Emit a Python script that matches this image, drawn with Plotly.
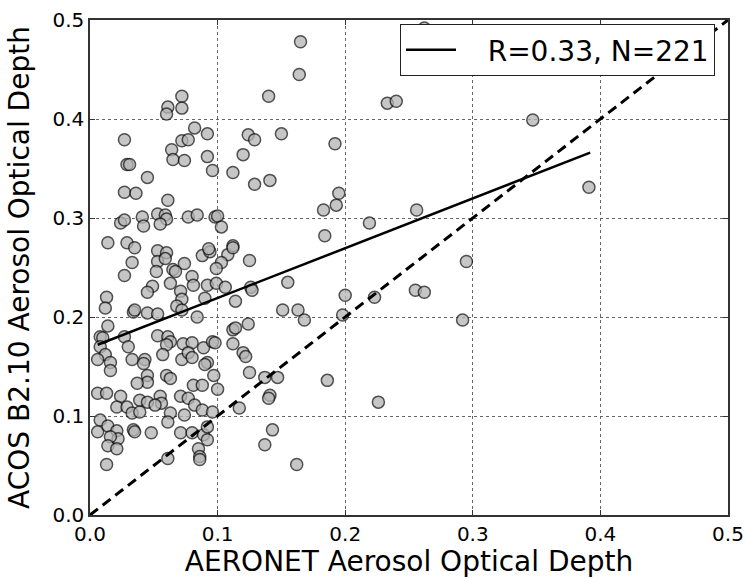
import plotly.graph_objects as go

# AERONET AOD (x) and ACOS B2.10 AOD (y)
aeronet_aod = [
    0.072, 0.061, 0.072, 0.060, 0.027, 0.082, 0.092, 0.072, 0.077, 0.064,
    0.092, 0.065, 0.074, 0.029, 0.031, 0.045, 0.027, 0.036, 0.061, 0.096,
    0.024, 0.027, 0.041, 0.042, 0.053, 0.059, 0.060, 0.055, 0.077, 0.084,
    0.098,
    0.014, 0.029, 0.035, 0.053, 0.060, 0.033, 0.053, 0.059, 0.074, 0.088,
    0.094, 0.052, 0.065, 0.067, 0.027, 0.080, 0.081, 0.063, 0.092, 0.049,
    0.045, 0.071, 0.072, 0.068, 0.072, 0.090, 0.013, 0.012, 0.034, 0.035,
    0.045, 0.053, 0.084, 0.014, 0.008, 0.010, 0.027, 0.053, 0.061, 0.063,
    0.060, 0.030, 0.008, 0.073, 0.080, 0.089, 0.096, 0.012, 0.006, 0.016,
    0.033, 0.043, 0.057, 0.072, 0.077, 0.080, 0.092, 0.042,
    0.016, 0.045, 0.045, 0.060, 0.063, 0.037, 0.081, 0.088, 0.006, 0.013,
    0.024, 0.039, 0.045, 0.055, 0.056, 0.071, 0.077, 0.082, 0.088, 0.021,
    0.029, 0.033, 0.039, 0.051, 0.063, 0.074, 0.096, 0.008, 0.061, 0.006,
    0.014, 0.021, 0.022, 0.016, 0.014, 0.021, 0.034, 0.048, 0.071, 0.080,
    0.089, 0.092, 0.085, 0.086, 0.086, 0.013, 0.061, 0.035,
    0.140, 0.164, 0.165, 0.124, 0.129, 0.150, 0.120, 0.112, 0.129, 0.141,
    0.183, 0.100, 0.103,
    0.184, 0.093, 0.108, 0.112, 0.112, 0.103, 0.099, 0.125, 0.099, 0.106,
    0.126, 0.127, 0.114, 0.155, 0.151, 0.163, 0.168, 0.124, 0.112, 0.114,
    0.098, 0.112, 0.120, 0.122, 0.125,
    0.090, 0.097, 0.137, 0.147, 0.186, 0.100, 0.141, 0.140, 0.117, 0.092,
    0.143, 0.137, 0.162,
    0.262, 0.233, 0.240, 0.347, 0.192, 0.391, 0.195, 0.193, 0.256, 0.219,
    0.295, 0.200, 0.223, 0.255, 0.262, 0.198, 0.292, 0.226,
]
acos_aod = [
    0.423, 0.412, 0.411, 0.405, 0.379, 0.391, 0.385, 0.378, 0.379, 0.369,
    0.362, 0.359, 0.358, 0.354, 0.354, 0.341, 0.326, 0.325, 0.318, 0.348,
    0.295, 0.298, 0.301, 0.292, 0.304, 0.303, 0.299, 0.294, 0.301, 0.303,
    0.301,
    0.275, 0.275, 0.270, 0.267, 0.265, 0.255, 0.256, 0.259, 0.254, 0.262,
    0.266, 0.246, 0.248, 0.246, 0.242, 0.241, 0.232, 0.234, 0.232, 0.231,
    0.225, 0.226, 0.218, 0.211, 0.207, 0.219, 0.220, 0.209, 0.205, 0.207,
    0.204, 0.203, 0.200, 0.191, 0.180, 0.179, 0.180, 0.181, 0.180, 0.175,
    0.172, 0.170, 0.170, 0.173, 0.174, 0.169, 0.175, 0.162, 0.157, 0.154,
    0.157, 0.157, 0.162, 0.157, 0.164, 0.159, 0.154, 0.153,
    0.146, 0.141, 0.134, 0.141, 0.138, 0.133, 0.131, 0.131, 0.123, 0.123,
    0.120, 0.116, 0.114, 0.120, 0.113, 0.120, 0.118, 0.111, 0.106, 0.109,
    0.109, 0.103, 0.104, 0.111, 0.103, 0.101, 0.104, 0.096, 0.094, 0.084,
    0.090, 0.085, 0.077, 0.079, 0.070, 0.067, 0.086, 0.083, 0.083, 0.083,
    0.081, 0.076, 0.067, 0.059, 0.056, 0.051, 0.057, 0.084,
    0.423, 0.445, 0.478, 0.384, 0.379, 0.385, 0.364, 0.346, 0.334, 0.338,
    0.308, 0.302, 0.291,
    0.282, 0.269, 0.263, 0.272, 0.270, 0.255, 0.249, 0.257, 0.234, 0.230,
    0.230, 0.227, 0.216, 0.235, 0.207, 0.207, 0.197, 0.193, 0.187, 0.189,
    0.174, 0.173, 0.164, 0.160, 0.144,
    0.152, 0.141, 0.139, 0.139, 0.136, 0.127, 0.121, 0.118, 0.108, 0.089,
    0.086, 0.071, 0.051,
    0.492, 0.416, 0.418, 0.399, 0.375, 0.331, 0.325, 0.313, 0.308, 0.295,
    0.256, 0.222, 0.220, 0.227, 0.225, 0.202, 0.197, 0.114,
]

# regression line end points and 1:1 line
fit_x = [0.006, 0.392]
fit_y = [0.172, 0.366]
one_to_one = [0.0, 0.5]

tick_vals = [0.0, 0.1, 0.2, 0.3, 0.4, 0.5]
tick_text = ["0.0", "0.1", "0.2", "0.3", "0.4", "0.5"]
legend_label = "R=0.33, N=221"
x_title = "AERONET Aerosol Optical Depth"
y_title = "ACOS B2.10 Aerosol Optical Depth"

FONT = "DejaVu Sans"

fig = go.Figure()
fig.add_trace(go.Scatter(
    x=aeronet_aod, y=acos_aod, mode="markers", showlegend=False,
    marker=dict(size=12, color="#b4b4b4", opacity=0.75,
                line=dict(color="#151515", width=1.5)),
))
fig.add_trace(go.Scatter(
    x=fit_x, y=fit_y, mode="lines", name="\u00a0\u00a0\u00a0" + legend_label,
    line=dict(color="black", width=2.5),
))
fig.add_trace(go.Scatter(
    x=one_to_one, y=one_to_one, mode="lines", showlegend=False,
    line=dict(color="black", width=3, dash="10px,6px"),
))

axis_common = dict(
    range=[0, 0.5], tickvals=tick_vals, ticktext=tick_text,
    ticks="inside", ticklen=5, tickcolor="#333", tickwidth=1,
    showline=True, linecolor="#333", linewidth=1.5, mirror="allticks",
    showgrid=True, gridcolor="#666", griddash="dot", gridwidth=1,
    zeroline=False, tickfont=dict(family=FONT, size=20, color="black"),
    automargin=False,
)

fig.update_layout(
    width=746, height=578,
    margin=dict(l=90, r=18, t=20, b=63),
    paper_bgcolor="white", plot_bgcolor="white",
    font=dict(family=FONT, color="black"),
    xaxis=dict(**axis_common,
               title=dict(text=x_title, font=dict(family=FONT, size=28))),
    yaxis=dict(**axis_common,
               title=dict(text=y_title, font=dict(family=FONT, size=28))),
    legend=dict(x=0.9796, y=0.992, xanchor="right", yanchor="top",
                bgcolor="white", bordercolor="#222", borderwidth=1,
                itemwidth=50,
                font=dict(family=FONT, size=28)),
)

fig.write_html("out.html")
